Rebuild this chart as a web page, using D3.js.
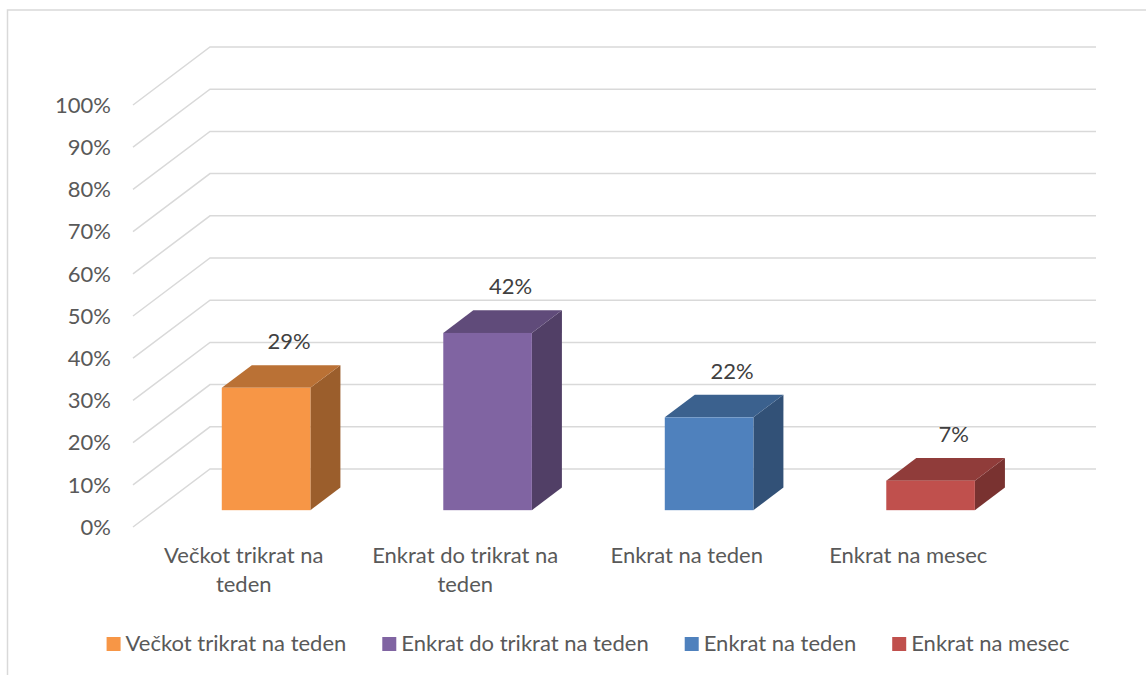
<!DOCTYPE html>
<html>
<head>
<meta charset="utf-8">
<script src="https://cdn.jsdelivr.net/npm/d3@7"></script>
<style>
  body { margin: 0; background: #fff; }
  text { font-family: Lato, "Open Sans", sans-serif; }
</style>
</head>
<body>
<div id="chart"></div>
<script>
// data
const categories = ["Večkot trikrat na teden", "Enkrat do trikrat na teden", "Enkrat na teden", "Enkrat na mesec"];
const values = [0.29, 0.42, 0.22, 0.07];
const valueLabels = ["29%", "42%", "22%", "7%"];
const yTicks = [0, 0.1, 0.2, 0.3, 0.4, 0.5, 0.6, 0.7, 0.8, 0.9, 1.0];
const colors = ["#F79646", "#8064A2", "#4F81BD", "#C0504D"];

const width = 1146;
const height = 675;
const fontSize = 22;

// 3d box: front plane of the floor/wall and how far back the wall sits
const depthX = 77;
const depthY = 58;
const barFront = 0.29;   // fraction of depth where bar front face sits
const barBack = 0.68;

var svg = d3.select('#chart').append('svg')
    .attr('width', width)
    .attr('height', height);

// chart border (right and bottom fall outside the picture)
svg.append('path')
    .attr('d', `M7.5,${height + 5} L7.5,10 L${width + 5},10`)
    .style('fill', 'none')
    .style('stroke', '#D9D9D9')
    .style('stroke-width', 1.5);

var xScale = d3.scaleBand()
    .domain(categories)
    .range([133, 1096 - depthX])
    .paddingInner(0.6)
    .paddingOuter(0.3);

var yScale = d3.scaleLinear()
    .domain([0, 1])
    .range([527, 105]);

function px(x, f) { return x + f * depthX; }
function py(v, f) { return yScale(v) - f * depthY; }

// gridlines on side wall + back wall
var grid = svg.append('g');
grid.selectAll('path')
    .data(yTicks).enter()
    .append('path')
    .attr('d', d => `M${px(133, 0)},${py(d, 0)} L${px(133, 1)},${py(d, 1)} L1096,${py(d, 1)}`)
    .style('fill', 'none')
    .style('stroke', '#D9D9D9')
    .style('stroke-width', 1.5);

// y axis labels
svg.append('g').selectAll('text')
    .data(yTicks).enter()
    .append('text')
    .attr('x', 111)
    .attr('y', d => yScale(d))
    .attr('dy', '0.35em')
    .attr('text-anchor', 'end')
    .style('font-size', fontSize + 'px')
    .style('fill', '#595959')
    .text(d => d3.format('.0%')(d));

// bars
var bars = svg.append('g').selectAll('g')
    .data(categories).enter()
    .append('g');

function poly(pts) { return 'M' + pts.map(p => p.join(',')).join('L') + 'Z'; }

bars.append('path')   // side face
    .attr('d', (d, i) => {
        let x1 = xScale(d) + xScale.bandwidth();
        let dx = (barBack - barFront) * depthX;
        let dy = (barBack - barFront) * depthY;
        let x = px(x1, barFront);
        return poly([[x, py(0, barFront)], [x, py(values[i], barFront)],
                     [x + dx, py(values[i], barFront) - dy], [x + dx, py(0, barFront) - dy]]);
    })
    .style('fill', (d, i) => d3.color(colors[i]).darker(1.3));

bars.append('path')   // top face
    .attr('d', (d, i) => {
        let x0 = px(xScale(d), barFront);
        let x1 = x0 + xScale.bandwidth();
        let dx = (barBack - barFront) * depthX;
        let dy = (barBack - barFront) * depthY;
        let y = py(values[i], barFront);
        return poly([[x0, y], [x1, y], [x1 + dx, y - dy], [x0 + dx, y - dy]]);
    })
    .style('fill', (d, i) => d3.color(colors[i]).darker(0.8));

bars.append('rect')   // front face
    .attr('x', d => px(xScale(d), barFront))
    .attr('y', (d, i) => py(values[i], barFront))
    .attr('width', xScale.bandwidth())
    .attr('height', (d, i) => py(0, barFront) - py(values[i], barFront))
    .style('fill', (d, i) => colors[i]);

// value labels above the bars
bars.append('text')
    .attr('x', d => px(xScale(d) + xScale.bandwidth() / 2, barFront) + 23)
    .attr('y', (d, i) => py(values[i], barBack) - 16)
    .attr('text-anchor', 'middle')
    .style('font-size', fontSize + 'px')
    .style('fill', '#404040')
    .text((d, i) => valueLabels[i]);

// category labels, wrapped like excel does
var catLabels = svg.append('g').selectAll('text')
    .data(categories).enter()
    .append('text')
    .attr('x', d => xScale(d) + xScale.bandwidth() / 2)
    .attr('y', 563)
    .attr('text-anchor', 'middle')
    .style('font-size', fontSize + 'px')
    .style('fill', '#595959');

catLabels.each(function (d) {
    let el = d3.select(this);
    let words = d.split(' ');
    let line = [];
    let lineNo = 0;
    let tspan = el.append('tspan').attr('x', el.attr('x')).attr('dy', 0);
    words.forEach(w => {
        line.push(w);
        tspan.text(line.join(' '));
        if (tspan.node().getComputedTextLength() > 200 && line.length > 1) {
            line.pop();
            tspan.text(line.join(' '));
            line = [w];
            lineNo++;
            tspan = el.append('tspan').attr('x', el.attr('x')).attr('dy', 29).text(w);
        }
    });
});

// legend, centred under the chart
var legend = svg.append('g');
var items = legend.selectAll('g')
    .data(categories).enter()
    .append('g');
items.append('rect')
    .attr('y', 637)
    .attr('width', 14)
    .attr('height', 14)
    .style('fill', (d, i) => colors[i]);
items.append('text')
    .attr('x', 19)
    .attr('y', 651)
    .style('font-size', fontSize + 'px')
    .style('fill', '#595959')
    .text(d => d);

var offs = [];
var cur = 0;
items.each(function () {
    offs.push(cur);
    cur += 19 + d3.select(this).select('text').node().getComputedTextLength() + 36;
});
var total = cur - 36;
var start = 588 - total / 2;
items.attr('transform', (d, i) => `translate(${start + offs[i]},0)`);
</script>
</body>
</html>
